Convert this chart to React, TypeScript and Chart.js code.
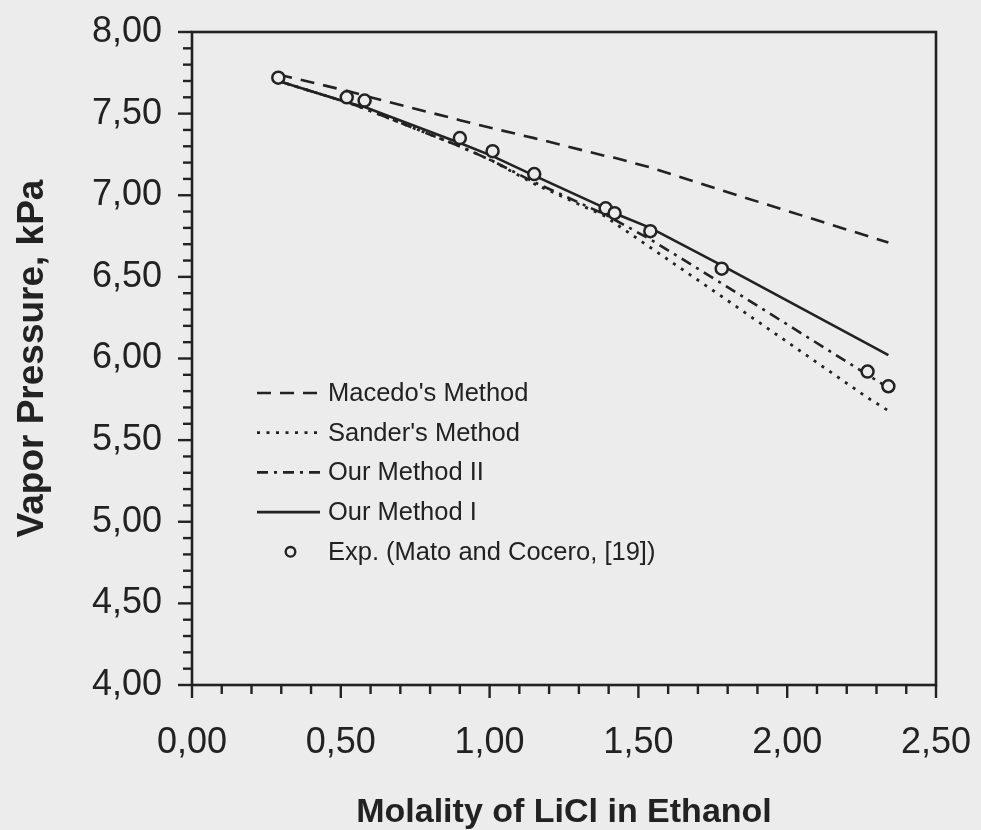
import React, { useEffect, useRef } from 'react';
import { Chart, registerables } from 'chart.js';

Chart.register(...registerables);

// ---- data ----
const molality = [0.29, 0.52, 0.58, 0.90, 1.01, 1.15, 1.39, 1.42, 1.54, 1.78, 2.27, 2.34];
const macedoMethod = [7.74, 7.64, 7.61, 7.46, 7.41, 7.35, 7.24, 7.23, 7.17, 7.03, 6.75, 6.71];
const sanderMethod = [7.70, 7.57, 7.53, 7.30, 7.21, 7.07, 6.87, 6.83, 6.68, 6.38, 5.76, 5.68];
const ourMethodII = [7.70, 7.57, 7.53, 7.30, 7.21, 7.08, 6.88, 6.85, 6.73, 6.46, 5.90, 5.82];
const ourMethodI = [7.70, 7.57, 7.54, 7.32, 7.24, 7.12, 6.92, 6.89, 6.80, 6.57, 6.09, 6.02];
const expMolality = [0.29, 0.52, 0.58, 0.90, 1.01, 1.15, 1.39, 1.42, 1.54, 1.78, 2.27, 2.34];
const expPressure = [7.72, 7.60, 7.58, 7.35, 7.27, 7.13, 6.92, 6.89, 6.78, 6.55, 5.92, 5.83];

const seriesLabels = [
  "Macedo's Method",
  "Sander's Method",
  'Our Method II',
  'Our Method I',
  'Exp. (Mato and Cocero, [19])',
];

const xRange = [0, 2.5];
const yRange = [4, 8];
const majorStep = 0.5;
const minorStep = 0.1;

const INK = '#222222';
const BG = '#ececec';
const FONT = "'Liberation Sans', Arial, Helvetica, sans-serif";

const toXY = (xs: number[], ys: number[]) => xs.map((x, i) => ({ x, y: ys[i] }));
const fmt = (v: number) => Number(v).toFixed(2).replace('.', ',');

const frameTicks = {
  id: 'frameTicks',
  afterDatasetsDraw(chart: any) {
    const { ctx, chartArea: a, scales } = chart;
    const xs = scales.x;
    const ys = scales.y;
    ctx.save();
    ctx.strokeStyle = INK;
    ctx.lineWidth = 2.6;
    ctx.strokeRect(a.left, a.top, a.right - a.left, a.bottom - a.top);
    ctx.lineWidth = 2.4;
    const nx = Math.round((xRange[1] - xRange[0]) / minorStep);
    for (let i = 0; i <= nx; i++) {
      const v = xRange[0] + i * minorStep;
      const major = i % Math.round(majorStep / minorStep) === 0;
      const px = xs.getPixelForValue(v);
      ctx.beginPath();
      ctx.moveTo(px, a.bottom);
      ctx.lineTo(px, a.bottom + (major ? 13 : 9));
      ctx.stroke();
    }
    const ny = Math.round((yRange[1] - yRange[0]) / minorStep);
    for (let i = 0; i <= ny; i++) {
      const v = yRange[0] + i * minorStep;
      const major = i % Math.round(majorStep / minorStep) === 0;
      const py = ys.getPixelForValue(v);
      ctx.beginPath();
      ctx.moveTo(a.left - (major ? 14 : 9), py);
      ctx.lineTo(a.left, py);
      ctx.stroke();
    }
    ctx.restore();
  },
};

const insideLegend = {
  id: 'insideLegend',
  afterDraw(chart: any) {
    const { ctx, chartArea: a } = chart;
    const x0 = a.left + 65;
    const x1 = a.left + 128;
    const tx = a.left + 136;
    const y0 = 393;
    const gap = 39.7;
    ctx.save();
    ctx.font = `25.5px ${FONT}`;
    ctx.textBaseline = 'middle';
    ctx.textAlign = 'left';
    chart.data.datasets.forEach((ds: any, i: number) => {
      const y = y0 + i * gap;
      ctx.strokeStyle = INK;
      if (ds.showLine === false) {
        ctx.lineWidth = 2.4;
        ctx.fillStyle = BG;
        ctx.beginPath();
        ctx.arc((x0 + x1) / 2 + 2, y, 4.8, 0, Math.PI * 2);
        ctx.fill();
        ctx.stroke();
      } else {
        ctx.lineWidth = ds.borderWidth;
        ctx.setLineDash(ds.borderDash || []);
        ctx.beginPath();
        ctx.moveTo(x0, y);
        ctx.lineTo(x1, y);
        ctx.stroke();
        ctx.setLineDash([]);
      }
      ctx.fillStyle = INK;
      ctx.fillText(ds.label, tx, y + 1);
    });
    ctx.restore();
  },
};

const noPad = (s: any) => {
  s.paddingLeft = 0;
  s.paddingRight = 0;
  s.paddingTop = 0;
  s.paddingBottom = 0;
};

export default function App() {
  const ref = useRef<HTMLCanvasElement | null>(null);

  useEffect(() => {
    document.body.style.margin = '0';
    const canvas = ref.current;
    if (!canvas) return;
    const lineBase = {
      pointRadius: 0,
      borderColor: INK,
      borderWidth: 2.6,
      fill: false,
      tension: 0,
    };
    const chart = new Chart(canvas, {
      type: 'line',
      data: {
        datasets: [
          { ...lineBase, label: seriesLabels[0], data: toXY(molality, macedoMethod), borderDash: [14, 9] },
          { ...lineBase, label: seriesLabels[1], data: toXY(molality, sanderMethod), borderDash: [3, 6.5], borderWidth: 2.8 },
          { ...lineBase, label: seriesLabels[2], data: toXY(molality, ourMethodII), borderDash: [11, 6, 3, 6] },
          { ...lineBase, label: seriesLabels[3], data: toXY(molality, ourMethodI) },
          {
            label: seriesLabels[4],
            data: toXY(expMolality, expPressure),
            showLine: false,
            pointStyle: 'circle',
            pointRadius: 6,
            pointBorderWidth: 2.5,
            pointBorderColor: INK,
            pointBackgroundColor: BG,
            borderColor: INK,
            backgroundColor: BG,
            order: -1,
          } as any,
        ],
      },
      options: {
        responsive: false,
        animation: false,
        devicePixelRatio: 1,
        layout: { padding: { top: 32, right: 45, left: 0, bottom: 0 } },
        plugins: {
          legend: { display: false },
          tooltip: { enabled: false },
        },
        scales: {
          x: {
            type: 'linear',
            min: xRange[0],
            max: xRange[1],
            grid: { display: false, drawTicks: false },
            border: { display: false },
            ticks: {
              stepSize: majorStep,
              autoSkip: false,
              maxRotation: 0,
              padding: 36,
              color: INK,
              font: { family: FONT, size: 36 },
              callback: (v: any) => fmt(v),
            },
            title: {
              display: true,
              text: 'Molality of LiCl in Ethanol',
              color: INK,
              font: { family: FONT, size: 34, weight: 'bold', lineHeight: 1 },
              padding: { top: 0, bottom: 0 },
            },
            afterFit: (s: any) => {
              s.height = 145;
              noPad(s);
            },
          },
          y: {
            type: 'linear',
            min: yRange[0],
            max: yRange[1],
            grid: { display: false, drawTicks: false },
            border: { display: false },
            ticks: {
              stepSize: majorStep,
              autoSkip: false,
              padding: 30,
              color: INK,
              font: { family: FONT, size: 36 },
              callback: (v: any) => fmt(v),
            },
            title: {
              display: true,
              text: 'Vapor Pressure, kPa',
              color: INK,
              font: { family: FONT, size: 37, weight: 'bold', lineHeight: 1 },
              padding: { top: 14, bottom: 0 },
            },
            afterFit: (s: any) => {
              s.width = 192;
              noPad(s);
            },
          },
        },
      } as any,
      plugins: [frameTicks, insideLegend],
    });
    return () => chart.destroy();
  }, []);

  return (
    <div style={{ position: 'absolute', left: 0, top: 0, width: 981, height: 830, background: BG }}>
      <canvas ref={ref} width={981} height={830} style={{ display: 'block', width: 981, height: 830 }} />
    </div>
  );
}
